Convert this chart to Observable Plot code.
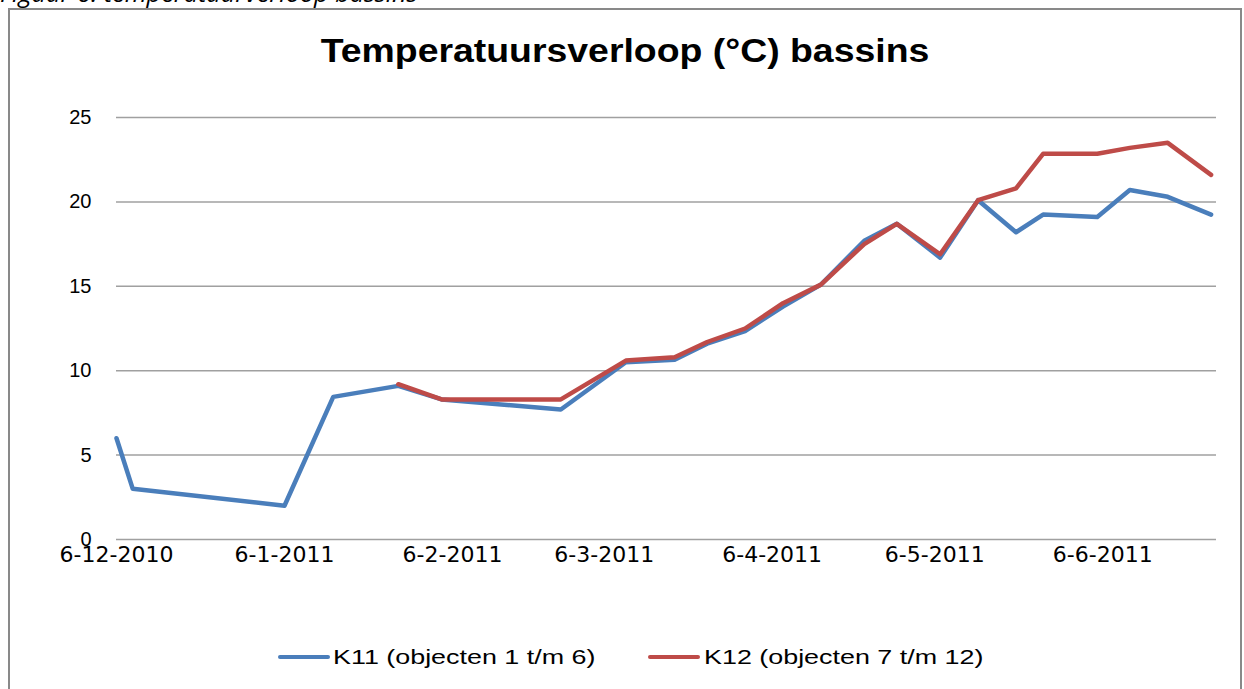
<!DOCTYPE html>
<html><head><meta charset="utf-8">
<script src="https://cdn.jsdelivr.net/npm/d3@7"></script>
<script src="https://cdn.jsdelivr.net/npm/@observablehq/plot@0.6"></script>
<style>
body{margin:0;background:#fff;font-family:"Liberation Sans",Arial,sans-serif;}
#page{position:relative;width:1244px;height:689px;overflow:hidden;background:#fff;}
#fig{position:absolute;left:0;top:-19px;font-style:italic;font-size:24px;line-height:24px;font-family:"Open Sans",sans-serif;color:#000;white-space:nowrap;transform:scaleX(1.05);transform-origin:0 0;}
#frame{position:absolute;left:8px;top:8px;width:1234px;height:720px;border:2px solid #898989;box-sizing:border-box;}
#title{position:absolute;left:325px;width:600px;top:30px;text-align:center;font-weight:bold;font-size:34px;line-height:40px;color:#000;white-space:nowrap;transform:scaleX(1.1);transform-origin:50% 0;}
#chart{position:absolute;left:0;top:100px;}
.lgsw{position:absolute;top:655px;width:52px;height:4px;border-radius:2px;}
.lgtx{position:absolute;top:644px;font-size:21px;line-height:26px;white-space:nowrap;transform:scaleX(1.28);transform-origin:0 0;color:#000;}
</style></head>
<body>
<div id="page">
  <div id="fig">Figuur 6: temperatuurverloop bassins</div>
  <div id="frame"></div>
  <div id="title">Temperatuursverloop (°C) bassins</div>
  <div id="chart"></div>
  <div id="legend"></div>
</div>
<script>
// ---- data ----
const dates = ["2010-12-06","2010-12-09","2011-01-06","2011-01-15","2011-01-27","2011-02-04","2011-02-26",
  "2011-03-10","2011-03-19","2011-03-25","2011-04-01","2011-04-08","2011-04-15","2011-04-23","2011-04-29",
  "2011-05-07","2011-05-14","2011-05-21","2011-05-26","2011-06-05","2011-06-11","2011-06-18","2011-06-26"];
const k11 = [6.0,3.0,2.0,8.45,9.1,8.3,7.7,10.5,10.65,11.6,12.35,13.8,15.1,17.7,18.7,16.7,20.1,18.2,19.25,19.1,20.7,20.3,19.25];
const k12 = [null,null,null,null,9.2,8.3,8.3,10.6,10.8,11.7,12.5,14.0,15.1,17.5,18.7,16.9,20.1,20.8,22.85,22.85,23.2,23.5,21.6];
const seriesNames = ["K11 (objecten 1 t/m 6)","K12 (objecten 7 t/m 12)"];
const seriesColors = ["#4a7ebb","#be4b48"];
const yTicks = [0,5,10,15,20,25];
const xTickDates = ["2010-12-06","2011-01-06","2011-02-06","2011-03-06","2011-04-06","2011-05-06","2011-06-06"];
const xTickLabels = ["6-12-2010","6-1-2011","6-2-2011","6-3-2011","6-4-2011","6-5-2011","6-6-2011"];
const xDomain = ["2010-12-06","2011-06-27"];

const parse = d3.utcParse("%Y-%m-%d");
const rows1 = dates.map((d,i)=>({date:parse(d), value:k11[i]})).filter(r=>r.value!=null);
const rows2 = dates.map((d,i)=>({date:parse(d), value:k12[i]})).filter(r=>r.value!=null);
const tickD = xTickDates.map(parse);
const labelOf = d => xTickLabels[tickD.findIndex(t=>+t===+d)];

const chart = Plot.plot({
  width:1244, height:500,
  marginLeft:116, marginRight:28, marginTop:17, marginBottom:61,
  style:{fontFamily:"'Liberation Sans',Arial,sans-serif", fontSize:"20px", color:"#000", background:"transparent", overflow:"visible"},
  x:{type:"utc", domain:xDomain.map(parse)},
  y:{domain:[0,25]},
  marks:[
    Plot.ruleY(yTicks, {stroke:"#a0a0a0", strokeWidth:1.5}),
    Plot.axisY({ticks:yTicks, tickSize:0, tickPadding:25, label:null, fontSize:20}),
    Plot.axisX({ticks:tickD, tickFormat:labelOf, tickSize:0, tickPadding:7, label:null, fontSize:22, fontFamily:"'DejaVu Sans',sans-serif"}),
    Plot.line(rows1, {x:"date", y:"value", stroke:seriesColors[0], strokeWidth:4.5, strokeLinejoin:"round", strokeLinecap:"round"}),
    Plot.line(rows2, {x:"date", y:"value", stroke:seriesColors[1], strokeWidth:4.5, strokeLinejoin:"round", strokeLinecap:"round"})
  ]
});
document.getElementById("chart").appendChild(chart);

const page = document.getElementById("page");
const swLeft = [278, 648], txLeft = [333, 704];
seriesNames.forEach((n,i)=>{
  const sw = document.createElement("div"); sw.className="lgsw";
  sw.style.left = swLeft[i]+"px"; sw.style.background = seriesColors[i];
  const tx = document.createElement("div"); tx.className="lgtx";
  tx.style.left = txLeft[i]+"px"; tx.textContent = n;
  page.appendChild(sw); page.appendChild(tx);
});
</script>
</body></html>
